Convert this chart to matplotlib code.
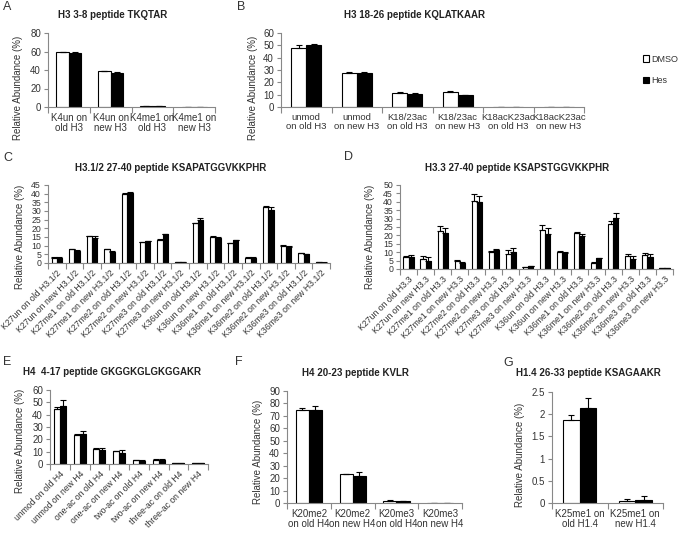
import numpy as np
import matplotlib.pyplot as plt

plt.rcParams['font.family'] = ['Liberation Sans', 'DejaVu Sans']

W, H = 683, 535
def fx(px): return px / W
def fy(py): return 1 - py / H

# ---- data (DMSO = white, Hes = black) ----
a_cats = ['K4un on\nold H3', 'K4un on\nnew H3', 'K4me1 on\nold H3', 'K4me1 on\nnew H3']
a_dmso = [59.0, 39.0, 1.2, 0.3]
a_dmso_err = [0.6, 0.4, 0.1, 0.1]
a_hes = [58.0, 37.0, 1.0, 0.3]
a_hes_err = [2.0, 0.8, 0.1, 0.1]

b_cats = ['unmod\non old H3', 'unmod\non new H3', 'K18/23ac\non old H3', 'K18/23ac\non new H3',
          'K18acK23ac\non old H3', 'K18acK23ac\non new H3']
b_dmso = [48.0, 27.5, 11.0, 12.0, 0.3, 0.3]
b_dmso_err = [2.0, 0.6, 1.0, 0.6, 0.1, 0.1]
b_hes = [50.5, 27.5, 10.5, 9.5, 0.3, 0.2]
b_hes_err = [0.6, 1.0, 0.6, 0.6, 0.1, 0.1]

mods = ['K27un', 'K27me1', 'K27me2', 'K27me3', 'K36un', 'K36me1', 'K36me2', 'K36me3']
c_cats = [m + ' on ' + s + ' H3.1/2' for m in mods for s in ['old', 'new']]
c_dmso = [3.0, 8.0, 15.5, 8.0, 40.0, 12.0, 13.2, 0.7, 22.8, 15.2, 11.4, 3.1, 32.5, 9.8, 5.6, 0.3]
c_dmso_err = [0.2, 0.3, 0.3, 0.3, 0.4, 0.3, 0.5, 0.1, 0.5, 0.3, 0.3, 0.2, 0.4, 0.3, 0.3, 0.1]
c_hes = [3.0, 7.0, 14.5, 6.5, 40.6, 12.6, 16.6, 0.7, 24.8, 14.4, 13.1, 3.1, 30.8, 9.2, 5.0, 0.2]
c_hes_err = [0.2, 0.3, 0.8, 0.6, 0.5, 0.3, 0.3, 0.1, 1.2, 0.5, 0.3, 0.2, 1.5, 0.4, 0.3, 0.1]

d_cats = [m + ' on ' + s + ' H3.3' for m in mods for s in ['old', 'new']]
d_dmso = [6.9, 6.0, 22.8, 4.8, 40.5, 10.1, 9.2, 1.2, 23.2, 9.9, 21.2, 3.8, 26.6, 7.5, 8.3, 0.5]
d_dmso_err = [0.8, 2.0, 2.8, 0.3, 4.0, 0.4, 2.0, 0.2, 3.0, 1.0, 1.0, 0.5, 2.0, 1.5, 1.5, 0.1]
d_hes = [7.3, 4.8, 21.6, 3.6, 39.7, 11.5, 9.9, 1.5, 20.8, 9.3, 19.6, 6.3, 30.6, 6.2, 7.3, 0.3]
d_hes_err = [1.0, 2.2, 3.0, 0.3, 4.0, 0.6, 2.5, 0.2, 3.5, 1.0, 1.0, 0.5, 2.5, 1.5, 1.5, 0.1]

e_cats = ['unmod on old H4', 'unmod on new H4', 'one-ac on old H4', 'one-ac on new H4',
          'two-ac on old H4', 'two-ac on new H4', 'three-ac on old H4', 'three-ac on new H4']
e_dmso = [45.0, 23.5, 12.5, 10.5, 3.0, 3.5, 0.5, 0.5]
e_dmso_err = [1.0, 0.5, 0.5, 0.3, 0.3, 0.5, 0.1, 0.1]
e_hes = [47.0, 24.0, 11.0, 9.0, 2.5, 3.0, 0.5, 0.5]
e_hes_err = [4.5, 2.5, 2.0, 2.0, 0.5, 1.0, 0.1, 0.1]

f_cats = ['K20me2\non old H4', 'K20me2\non new H4', 'K20me3\non old H4', 'K20me3\non new H4']
f_dmso = [75.0, 23.0, 2.0, 0.3]
f_dmso_err = [1.0, 0.6, 0.3, 0.1]
f_hes = [75.0, 22.0, 1.5, 0.3]
f_hes_err = [3.0, 3.0, 0.5, 0.1]

g_cats = ['K25me1 on\nold H1.4', 'K25me1 on\nnew H1.4']
g_dmso = [1.87, 0.05]
g_dmso_err = [0.11, 0.03]
g_hes = [2.13, 0.06]
g_hes_err = [0.23, 0.10]

fig = plt.figure(figsize=(W / 100, H / 100), dpi=100)
txtc = '#333333'
axc = '#888888'

def panel(l, r, t, b, cats, d, de, h, he, ymax, step, rot=0, fs=7, yfs=7):
    ax = fig.add_axes([fx(l), fy(b), fx(r) - fx(l), (b - t) / H])
    n = len(cats)
    x = np.arange(n)
    w = 0.3
    ax.bar(x - w / 2, d, w, color='white', edgecolor='black', linewidth=0.8, label='DMSO')
    ax.bar(x + w / 2, h, w, color='black', edgecolor='black', linewidth=0.8, label='Hes')
    z = np.zeros(n)
    ax.errorbar(x - w / 2, d, yerr=[z, de], fmt='none', ecolor='black', elinewidth=0.8, capsize=2, capthick=0.8)
    ax.errorbar(x + w / 2, h, yerr=[z, he], fmt='none', ecolor='black', elinewidth=0.8, capsize=2, capthick=0.8)
    ax.set_xlim(-0.5, n - 0.5)
    ax.set_ylim(0, ymax)
    ax.set_yticks(np.arange(0, ymax + step / 2, step))
    ax.yaxis.set_major_formatter(plt.FormatStrFormatter('%g'))
    ax.set_xticks(np.arange(n + 1) - 0.5)
    ax.set_xticklabels([])
    ax.set_xticks(x, minor=True)
    if rot:
        ax.set_xticklabels(cats, minor=True, rotation=rot, ha='right', rotation_mode='anchor')
    else:
        ax.set_xticklabels(cats, minor=True, linespacing=1.1)
    ax.tick_params(axis='x', which='minor', length=0, pad=4, labelsize=fs, labelcolor=txtc)
    ax.tick_params(axis='x', which='major', length=4, color=axc, width=0.8)
    ax.tick_params(axis='y', length=3, color=axc, width=0.8, labelsize=yfs, labelcolor=txtc, pad=2)
    for s in ['top', 'right']:
        ax.spines[s].set_visible(False)
    for s in ['left', 'bottom']:
        ax.spines[s].set_color(axc)
        ax.spines[s].set_linewidth(0.8)
    return ax

axA = panel(48, 215, 33, 107, a_cats, a_dmso, a_dmso_err, a_hes, a_hes_err, 80, 20)
axB = panel(281, 584, 33, 107, b_cats, b_dmso, b_dmso_err, b_hes, b_hes_err, 60, 10, fs=6.8)
axC = panel(48, 330, 185, 263, c_cats, c_dmso, c_dmso_err, c_hes, c_hes_err, 45, 5, rot=45, fs=6.3, yfs=6.3)
axD = panel(400, 673, 185, 269, d_cats, d_dmso, d_dmso_err, d_hes, d_hes_err, 50, 5, rot=45, fs=6.3, yfs=6.3)
axE = panel(50, 208, 390, 464, e_cats, e_dmso, e_dmso_err, e_hes, e_hes_err, 60, 10, rot=45, fs=6.2)
axF = panel(287, 462, 391, 503, f_cats, f_dmso, f_dmso_err, f_hes, f_hes_err, 90, 10)
axG = panel(552, 663, 392, 503, g_cats, g_dmso, g_dmso_err, g_hes, g_hes_err, 2.5, 0.5)

# titles
titles = [('H3 3-8 peptide TKQTAR', 113, 15), ('H3 18-26 peptide KQLATKAAR', 415, 15),
          ('H3.1/2 27-40 peptide KSAPATGGVKKPHR', 171, 168), ('H3.3 27-40 peptide KSAPSTGGVKKPHR', 517, 168),
          ('H4  4-17 peptide GKGGKGLGKGGAKR', 112, 372), ('H4 20-23 peptide KVLR', 355, 373),
          ('H1.4 26-33 peptide KSAGAAKR', 588, 373)]
for t, x, y in titles:
    fig.text(fx(x), fy(y), t, ha='center', va='center', fontsize=7, fontweight='bold', color='#222222')

letters = [('A', 3, 7), ('B', 237, 7), ('C', 3, 158), ('D', 344, 157), ('E', 3, 362), ('F', 235, 362), ('G', 503, 363)]
for t, x, y in letters:
    fig.text(fx(x), fy(y), t, ha='left', va='center', fontsize=9, color='#333333')

ylabs = [(18, 88), (253, 88), (20, 237), (370, 237), (20, 441), (258, 452), (520, 455)]
for x, y in ylabs:
    fig.text(fx(x), fy(y), 'Relative Abundance (%)', rotation=90, ha='center', va='center',
             fontsize=7, color=txtc)

fig.legend(*axB.get_legend_handles_labels(), loc='center left', bbox_to_anchor=(fx(638), fy(70)),
           frameon=False, fontsize=6.5, handlelength=0.7, handleheight=0.7, handletextpad=0.3,
           labelspacing=1.4, labelcolor=txtc, borderpad=0)

plt.savefig('out.png', dpi=100)
